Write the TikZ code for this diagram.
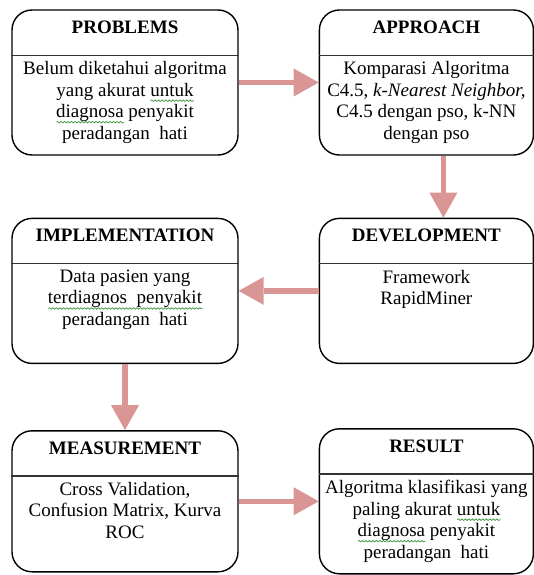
\documentclass[tikz,border=0pt]{standalone}
\usepackage{fontspec}
\setmainfont{Liberation Serif}
\usepackage{tikz}
\usetikzlibrary{arrows.meta,positioning,decorations.pathmorphing}
\definecolor{flowpink}{RGB}{217,150,148}
\definecolor{spellgreen}{RGB}{60,150,60}
\newlength\wavelen
\newcommand\gwave[1]{\settowidth\wavelen{#1}\rlap{\tikz[baseline=0pt]\draw[spellgreen, line width=0.7pt, decorate, decoration={snake, amplitude=0.8pt, segment length=3.5pt}] (0pt,-4.5pt) -- (\wavelen,-4.5pt);}#1}

\begin{document}
\begin{tikzpicture}[
  x=1pt, y=1pt,
  every node/.style={font=\fontsize{19}{21.5}\selectfont},
  box/.style={draw, line width=1.4pt, rounded corners=20pt, minimum height=145pt, inner sep=0pt},
  wide/.style={minimum width=226pt},
  narrow/.style={minimum width=214pt},
  ttl/.style={font=\fontsize{19}{21.5}\selectfont\bfseries, inner sep=0pt, text height=13pt, text depth=0pt},
  body/.style={anchor=north, inner sep=0pt, align=center},
  divider/.style={line width=1.4pt, draw=black!80},
  flow/.style={line width=5.5pt, draw=flowpink, -{Triangle[width=28pt,length=25pt,line width=0pt]}}
]
\useasboundingbox (-125,82.5) rectangle (409,-492.5);
\clip (-125,82.5) rectangle (409,-492.5);

% boxes
\node[box, wide] (prob) {};
\node[box, narrow, right=80pt of prob] (appr) {};
\node[box, narrow, below=62pt of appr] (devl) {};
\node[box, wide, left=80pt of devl] (impl) {};
\node[box, wide, minimum height=141pt, below=66pt of impl] (meas) {};
\node[box, narrow, right=80pt of meas] (res) {};

\foreach \b in {prob,appr,devl,impl,meas,res}
  \draw[divider] ([yshift=-46pt]\b.north west) -- ([yshift=-46pt]\b.north east);

% titles
\node[ttl, below=11pt of prob.north] (probttl) {PROBLEMS};
\node[ttl, below=11pt of appr.north] (apprttl) {APPROACH};
\node[ttl, below=11pt of devl.north] (devlttl) {DEVELOPMENT};
\node[ttl, below=11pt of impl.north] (implttl) {IMPLEMENTATION};
\node[ttl, below=11pt of meas.north] (measttl) {MEASUREMENT};
\node[ttl, below=11pt of res.north] (resttl) {RESULT};

% contents
\node[body] (probtxt) at ([yshift=-52pt]prob.north) {Belum diketahui algoritma\\ yang akurat \gwave{untuk}\\ \gwave{diagnosa} penyakit\\ peradangan~ hati};
\node[body] (apprtxt) at ([yshift=-52pt]appr.north) {Komparasi Algoritma\\ C4.5, \textit{k-Nearest Neighbor,}\\ C4.5 dengan pso, k-NN\\ dengan pso};
\node[body] (devltxt) at ([yshift=-52pt]devl.north) {Framework\\ RapidMiner};
\node[body] (impltxt) at ([yshift=-52pt]impl.north) {Data pasien yang\\ \gwave{terdiagnos~ penyakit}\\ peradangan~ hati};
\node[body] (meastxt) at ([yshift=-52pt]meas.north) {Cross Validation,\\ Confusion Matrix, Kurva\\ ROC};
\node[body] (restxt) at ([yshift=-52pt]res.north) {Algoritma klasifikasi yang\\ paling akurat \gwave{untuk}\\ \gwave{diagnosa} penyakit\\ peradangan~ hati};

% flow
\draw[flow] (prob) -- (appr);
\draw[flow] ([xshift=17pt]appr.south) -- ([xshift=17pt]devl.north);
\draw[flow] (devl) -- (impl);
\draw[flow] (impl) -- (meas);
\draw[flow] (meas) -- (res);
\end{tikzpicture}
\end{document}
